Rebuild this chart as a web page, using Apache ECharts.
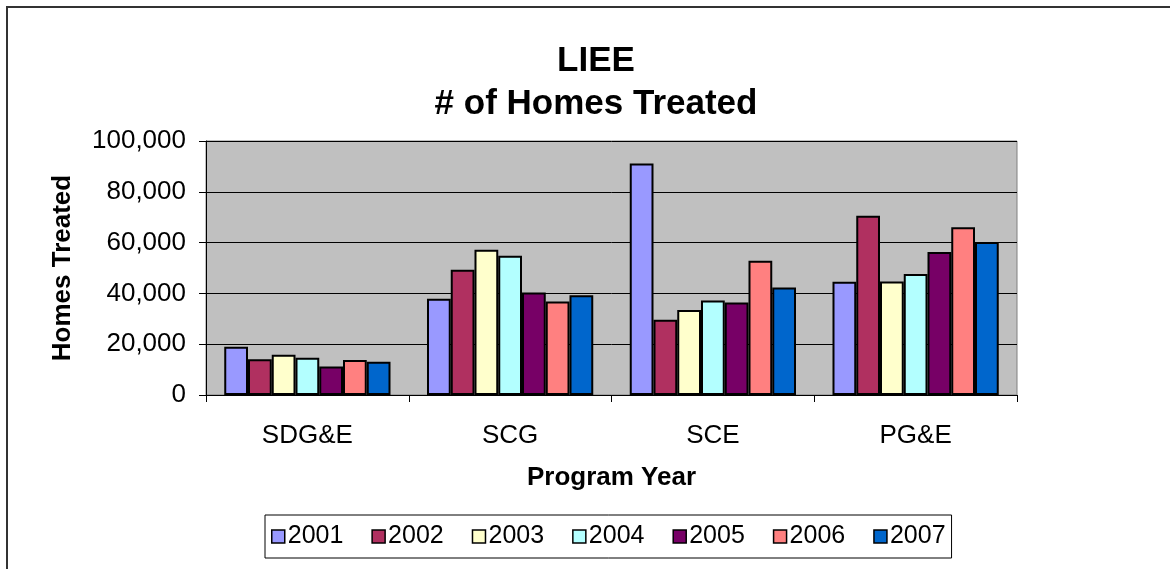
<!DOCTYPE html>
<html lang="en">
<head>
<meta charset="UTF-8">
<title>LIEE # of Homes Treated</title>
<script src="https://cdn.jsdelivr.net/npm/echarts@6/dist/echarts.min.js"></script>
<style>
  html, body { margin: 0; padding: 0; background: #fff; }
  #main { width: 1170px; height: 569px; }
</style>
</head>
<body>
<div id="main"></div>
<script>
// utilities (x axis)
var utilities = ['SDG&E', 'SCG', 'SCE', 'PG&E'];
var years = ['2001', '2002', '2003', '2004', '2005', '2006', '2007'];
var colors = ['#9999FF', '#B03060', '#FFFFCC', '#B3FFFF', '#770066', '#FF8080', '#0066CC'];

// homes treated, one array per year (SDG&E, SCG, SCE, PG&E)
var y2001 = [19000, 37900, 91100, 44600];
var y2002 = [14100, 49300, 29600, 70600];
var y2003 = [15800, 57200, 33500, 44700];
var y2004 = [14700, 54800, 37200, 47600];
var y2005 = [11200, 40400, 36400, 56300];
var y2006 = [13800, 36800, 52900, 66000];
var y2007 = [13100, 39300, 42300, 60200];
var values = [y2001, y2002, y2003, y2004, y2005, y2006, y2007];

var font = 'Liberation Sans, Arial, sans-serif';

var myChart = echarts.init(document.getElementById('main'));

var series = years.map(function (y, i) {
    return {
        name: y,
        type: 'bar',
        barGap: '0%',
        barCategoryGap: '18%',
        itemStyle: { color: colors[i], borderColor: '#000', borderWidth: 2 },
        data: values[i]
    };
});

var option = {
    animation: false,
    title: {
        text: 'LIEE\n# of Homes Treated',
        left: 591,
        top: 35,
        textAlign: 'center',
        textStyle: { fontFamily: font, fontSize: 35, fontWeight: 'bold', color: '#000', lineHeight: 43 }
    },
    legend: {
        data: years,
        left: 265,
        top: 515,
        itemWidth: 13,
        itemHeight: 13,
        itemGap: 28,
        borderColor: '#000',
        borderWidth: 1,
        padding: [9, 6],
        icon: 'rect',
        itemStyle: { borderColor: '#000', borderWidth: 1.5 },
        textStyle: { fontFamily: font, fontSize: 25, color: '#000', padding: [0, 0, 0, -2] }
    },
    grid: {
        left: 206, top: 141, width: 811, height: 254,
        show: true,
        backgroundColor: '#C0C0C0',
        borderColor: '#808080',
        borderWidth: 1
    },
    xAxis: {
        type: 'category',
        data: utilities,
        name: 'Program Year',
        nameLocation: 'middle',
        nameGap: 70,
        nameTextStyle: { fontFamily: font, fontSize: 26, fontWeight: 'bold', color: '#000' },
        axisLine: { lineStyle: { color: '#000', width: 1 } },
        axisTick: { show: true, length: 7, lineStyle: { color: '#000' } },
        axisLabel: { fontFamily: font, fontSize: 26, color: '#000', margin: 28 }
    },
    yAxis: {
        type: 'value',
        min: 0,
        max: 100000,
        interval: 20000,
        name: 'Homes Treated',
        nameLocation: 'middle',
        nameGap: 130,
        nameTextStyle: { fontFamily: font, fontSize: 26, fontWeight: 'bold', color: '#000' },
        axisLine: { show: true, lineStyle: { color: '#000', width: 1 } },
        axisTick: { show: true, length: 7, lineStyle: { color: '#000' } },
        axisLabel: {
            fontFamily: font, fontSize: 26, color: '#000', margin: 20,
            formatter: function (v) { return v.toLocaleString('en-US'); }
        },
        splitLine: { lineStyle: { color: '#000', width: 1 } }
    },
    graphic: [{
        type: 'rect',
        shape: { x: 7, y: 7, width: 1200, height: 600 },
        style: { fill: 'none', stroke: '#333', lineWidth: 2 },
        silent: true
    }],
    series: series
};

myChart.setOption(option);
</script>
</body>
</html>
